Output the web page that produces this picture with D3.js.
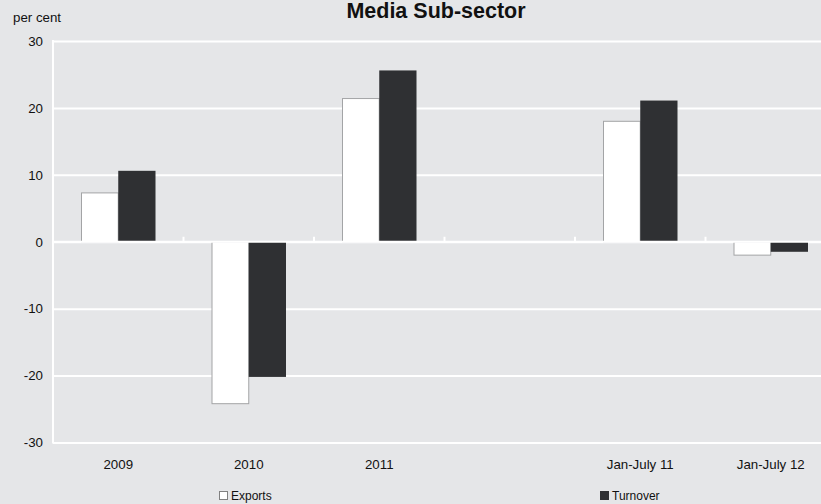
<!DOCTYPE html>
<html>
<head>
<meta charset="utf-8">
<script src="https://cdn.jsdelivr.net/npm/d3@7/dist/d3.min.js"></script>
<style>
  html, body { margin: 0; padding: 0; background: #e5e6e8; }
  svg { display: block; font-family: "Liberation Sans", Arial, sans-serif; }
</style>
</head>
<body>
<svg id="chart" width="821" height="504"></svg>
<script>
// Annual and year-to-date growth, media sub-sector (per cent)
const categories = ["2009", "2010", "2011", " ", "Jan-July 11", "Jan-July 12"];
const exportsValues = [7.3, -24.2, 21.4, null, 18.0, -2.0];
const turnoverValues = [10.6, -20.2, 25.6, null, 21.1, -1.5];
const seriesNames = ["Exports", "Turnover"];
const yTicks = [-30, -20, -10, 0, 10, 20, 30];

const W = 821, H = 504;
const plotLeft = 53, plotRight = 836, plotTop = 41, plotBottom = 442.5;

const svg = d3.select("#chart");
svg.append("rect").attr("width", W).attr("height", H).attr("fill", "#e5e6e8");

const x0 = d3.scaleBand().domain(categories).range([plotLeft, plotRight]).padding(0);
const groupInset = 28;
const x1 = d3.scaleBand().domain(seriesNames)
  .range([groupInset, x0.bandwidth() - groupInset]).padding(0);
const y = d3.scaleLinear().domain([-30, 30]).range([plotBottom, plotTop]);

const colors = { Exports: "#ffffff", Turnover: "#2f3033" };
const strokes = { Exports: "#a3a4a6", Turnover: "none" };

// Gridlines and y tick labels (plain hyphen for negatives)
const yAxis = d3.axisLeft(y).tickValues(yTicks).tickSize(-(W - plotLeft)).tickPadding(10)
  .tickFormat(d => String(d));
const gy = svg.append("g").attr("transform", `translate(${plotLeft},0)`).call(yAxis);
gy.select(".domain").remove();
gy.selectAll(".tick line").attr("stroke", "#ffffff").attr("stroke-width", 2);
gy.selectAll(".tick text").attr("fill", "#111").attr("font-size", "13.3px")
  .attr("font-family", "Liberation Sans, Arial, sans-serif");

// Vertical axis line
svg.append("line").attr("x1", plotLeft).attr("x2", plotLeft)
  .attr("y1", y(30) - 1).attr("y2", y(-30) + 1)
  .attr("stroke", "#ffffff").attr("stroke-width", 2);

// Bars
const rows = categories.map((c, i) => ({
  cat: c,
  vals: [{ s: "Exports", v: exportsValues[i] }, { s: "Turnover", v: turnoverValues[i] }]
}));
const groups = svg.append("g").selectAll("g").data(rows).join("g")
  .attr("transform", d => `translate(${x0(d.cat)},0)`);
groups.selectAll("rect").data(d => d.vals.filter(e => e.v !== null)).join("rect")
  .attr("x", d => x1(d.s) + (d.s === "Exports" ? 0.5 : 0))
  .attr("width", d => x1.bandwidth() - (d.s === "Exports" ? 0.5 : 0))
  .attr("y", d => y(Math.max(0, d.v)))
  .attr("height", d => Math.abs(y(d.v) - y(0)))
  .attr("fill", d => colors[d.s])
  .attr("stroke", d => strokes[d.s])
  .attr("stroke-width", 1);

// Zero line with category separator ticks
svg.append("line").attr("x1", plotLeft).attr("x2", W)
  .attr("y1", y(0)).attr("y2", y(0))
  .attr("stroke", "#ffffff").attr("stroke-width", 2);
svg.append("g").selectAll("line").data(categories.slice(1)).join("line")
  .attr("x1", d => x0(d)).attr("x2", d => x0(d))
  .attr("y1", y(0) - 5).attr("y2", y(0))
  .attr("stroke", "#ffffff").attr("stroke-width", 2);

// Category labels
svg.append("g").selectAll("text").data(categories).join("text")
  .attr("x", d => x0(d) + x0.bandwidth() / 2)
  .attr("y", 469)
  .attr("text-anchor", "middle")
  .attr("font-size", "13.3px").attr("fill", "#111")
  .text(d => d.trim());

// Title and unit label
svg.append("text").attr("x", 436).attr("y", 17.5).attr("text-anchor", "middle")
  .attr("font-size", "21.5px").attr("font-weight", "bold").attr("fill", "#111")
  .text("Media Sub-sector");
svg.append("text").attr("x", 13).attr("y", 22).attr("font-size", "13.3px")
  .attr("fill", "#111").text("per cent");

// Legend
const legendItems = [
  { name: "Exports", x: 219 },
  { name: "Turnover", x: 600 }
];
const lg = svg.append("g").selectAll("g").data(legendItems).join("g")
  .attr("transform", d => `translate(${d.x},491)`);
lg.append("rect").attr("x", 0.5).attr("y", 0.5).attr("width", 8).attr("height", 8)
  .attr("fill", d => colors[d.name])
  .attr("stroke", d => d.name === "Exports" ? "#808080" : colors[d.name]);
lg.append("text").attr("x", 12).attr("y", 9).attr("font-size", "12px").attr("fill", "#111")
  .text(d => d.name);
</script>
</body>
</html>
